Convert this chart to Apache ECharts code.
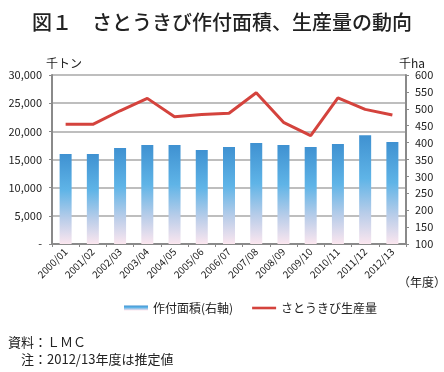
<!DOCTYPE html>
<html>
<head>
<meta charset="utf-8">
<script src="https://cdn.jsdelivr.net/npm/echarts@6/dist/echarts.min.js"></script>
<style>
html,body{margin:0;padding:0;background:#fff;}
#chart{width:444px;height:372px;}
</style>
</head>
<body>
<div id="chart"></div>
<script>
var categories = ['2000/01','2001/02','2002/03','2003/04','2004/05','2005/06','2006/07','2007/08','2008/09','2009/10','2010/11','2011/12','2012/13'];
var production = [21250, 21250, 23650, 25850, 22600, 23000, 23200, 26850, 21600, 19250, 25950, 23900, 22900];
var area = [366, 366, 384, 393, 393, 378, 387, 399, 393, 387, 396, 422, 402];
var leftTicks = [0, 30000, 5000];
var rightTicks = [100, 600, 50];

var FONT = '"Noto Sans CJK JP", "Noto Sans", sans-serif';
var chart = echarts.init(document.getElementById('chart'), null, {renderer: 'canvas'});
var barGrad = new echarts.graphic.LinearGradient(0, 0, 0, 1, [
  {offset: 0, color: '#3f91d1'},
  {offset: 0.4, color: '#5fb4e7'},
  {offset: 0.72, color: '#b9cde9'},
  {offset: 1, color: '#fbe6ef'}
]);
var gridColor = '#a8a8a8';
var axisColor = '#8a8a8a';
chart.setOption({
  animation: false,
  textStyle: {fontFamily: FONT},
  title: {
    text: '図１　さとうきび作付面積、生産量の動向',
    left: 'center', top: 7,
    textStyle: {fontFamily: FONT, fontSize: 20, fontWeight: 500, color: '#222'}
  },
  grid: {left: 52, right: 38, top: 75, bottom: 128, containLabel: false},
  legend: {
    left: 119, top: 297,
    itemWidth: 24, itemHeight: 5, itemGap: 19,
    textStyle: {fontFamily: FONT, fontSize: 12, color: '#222'},
    data: [
      {name: '作付面積(右軸)', icon: 'rect'},
      {name: 'さとうきび生産量', icon: 'path://M0,0 M0,1.2 L24,1.2 L24,3.8 L0,3.8 Z M24,5'}
    ]
  },
  xAxis: {
    type: 'category',
    data: categories,
    boundaryGap: true,
    axisLine: {lineStyle: {color: axisColor, width: 2}},
    axisTick: {show: true, length: 3, lineStyle: {color: axisColor, width: 1}},
    axisLabel: {rotate: 45, fontSize: 10, color: '#222', margin: 6, interval: 0, fontFamily: FONT}
  },
  yAxis: [{
    type: 'value',
    min: leftTicks[0], max: leftTicks[1], interval: leftTicks[2],
    name: '千トン', nameLocation: 'end', nameGap: 5,
    nameTextStyle: {align: 'left', padding: [0, 0, 0, -6], fontSize: 12, color: '#222', fontFamily: FONT},
    axisLine: {show: true, lineStyle: {color: axisColor, width: 2}},
    axisTick: {show: true, length: 3, lineStyle: {color: axisColor}},
    splitLine: {show: true, lineStyle: {color: gridColor, width: 1.5}},
    axisLabel: {
      fontSize: 11, color: '#222', margin: 10, fontFamily: FONT,
      formatter: function (v) { return v === 0 ? '-' : v.toLocaleString('en-US'); }
    }
  }, {
    type: 'value',
    min: rightTicks[0], max: rightTicks[1], interval: rightTicks[2],
    position: 'right',
    name: '千ha', nameLocation: 'end', nameGap: 5,
    nameTextStyle: {align: 'left', padding: [0, 0, 0, -7], fontSize: 12, color: '#222', fontFamily: FONT},
    axisLine: {show: true, lineStyle: {color: axisColor, width: 2}},
    axisTick: {show: true, length: 3, lineStyle: {color: axisColor}},
    splitLine: {show: false},
    axisLabel: {fontSize: 11, color: '#222', margin: 9, fontFamily: FONT}
  }],
  series: [{
    name: '作付面積(右軸)',
    type: 'bar',
    yAxisIndex: 1,
    data: area,
    barWidth: 12,
    itemStyle: {color: barGrad}
  }, {
    name: 'さとうきび生産量',
    type: 'line',
    yAxisIndex: 0,
    data: production,
    symbol: 'none',
    lineStyle: {color: '#d4433d', width: 3},
    itemStyle: {color: '#d4433d'},
    z: 5
  }],
  graphic: [{
    type: 'text', left: 398, top: 276,
    style: {text: '（年度）', font: '12px ' + FONT, fill: '#222'}
  }, {
    type: 'text', left: 8, top: 336,
    style: {text: '資料：ＬＭＣ', font: '13px ' + FONT, fill: '#222'}
  }, {
    type: 'text', left: 8, top: 353,
    style: {text: '　注：2012/13年度は推定値', font: '13px ' + FONT, fill: '#222'}
  }]
});
</script>
</body>
</html>
